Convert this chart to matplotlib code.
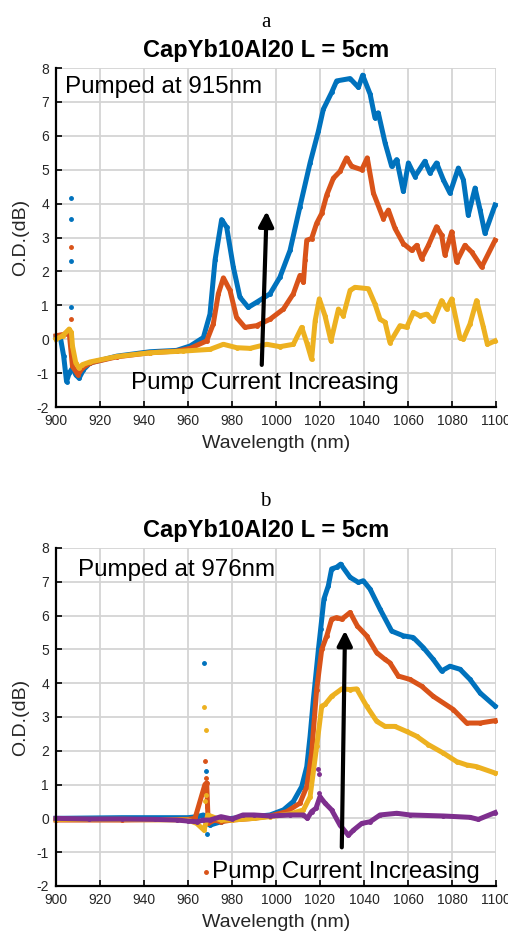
import matplotlib
matplotlib.use('Agg')
import matplotlib.pyplot as plt

plt.rcParams['font.family'] = ['Liberation Sans', 'DejaVu Sans']
plt.rcParams['axes.unicode_minus'] = False

BLUE = '#0072BD'
ORANGE = '#D95319'
YELLOW = '#EDB120'
PURPLE = '#7E2F8E'

# ---- panel a : pumped at 915 nm ----
a_blue_wl = [900, 902, 903.5, 904.8, 906, 907.5, 909, 910.5, 912.5, 915.5, 927.6, 942.7, 954.8, 961, 967,
             970, 972.3, 975.3, 977.6, 980.6, 983.6, 987.4, 991.2, 997.3, 1001.8, 1006.4, 1010.9, 1015.5,
             1019.3, 1021.5, 1025.3, 1027.6, 1033.7, 1037.5, 1039.4, 1042.8, 1045, 1046.5, 1049.6, 1052.6,
             1054.9, 1057.9, 1060.2, 1063.2, 1067.7, 1070, 1073, 1076.1, 1079.1, 1082.9, 1085.2, 1087.4,
             1090.5, 1092.8, 1095, 1099.6]
a_blue_od = [0.05, 0.05, -0.5, -1.25, -1.0, -0.85, -1.05, -1.15, -0.9, -0.7, -0.5, -0.37, -0.33, -0.2, 0.05,
             0.74, 2.33, 3.53, 3.3, 2.13, 1.24, 0.94, 1.09, 1.34, 1.83, 2.62, 3.91, 5.2,
             6.14, 6.78, 7.28, 7.62, 7.69, 7.43, 7.79, 7.23, 6.53, 6.68, 5.79, 5.1,
             5.3, 4.36, 5.2, 4.8, 5.25, 4.9, 5.2, 4.7, 4.31, 5.05, 4.7, 3.66,
             4.46, 3.81, 3.12, 3.96]

a_orange_wl = [900, 904, 906, 906.6, 907.5, 910, 912, 915.5, 927.6, 942.7, 955, 961, 968.5, 971.5, 973.8,
               976.1, 979.1, 982.1, 985.9, 991.2, 997.3, 1003.4, 1007.9, 1010.9, 1012.5, 1013.2, 1014,
               1016.2, 1018.5, 1020.8, 1023.1, 1026.1, 1029.1, 1032.1, 1034.4, 1039, 1041.5, 1044.3,
               1048.8, 1051.1, 1054.1, 1057.9, 1061.7, 1064, 1066.2, 1069.3, 1073, 1075.3, 1076.8,
               1079.9, 1082.1, 1085.9, 1089, 1093.5, 1099.6]
a_orange_od = [0.1, 0.15, 0.2, -0.2, -0.8, -1.05, -0.85, -0.7, -0.52, -0.4, -0.35, -0.27, -0.05, 0.45, 1.34,
               1.81, 1.44, 0.64, 0.35, 0.4, 0.59, 0.89, 1.34, 1.88, 1.68, 2.33, 2.92,
               2.97, 3.42, 3.71, 4.26, 4.75, 4.95, 5.35, 5.1, 5.0, 5.35, 4.31,
               3.56, 3.81, 3.27, 2.82, 2.62, 2.77, 2.38, 2.77, 3.32, 3.07, 2.48,
               3.17, 2.28, 2.77, 2.57, 2.13, 2.92]

a_yellow_wl = [900, 903, 906, 907, 907.5, 909, 910.5, 912, 915.5, 927.6, 942.7, 957.9, 970, 976.1, 982.1,
               988.2, 995.8, 1001.8, 1007.9, 1011.7, 1014, 1016.2, 1017.8, 1019.7, 1022.3, 1025,
               1028.4, 1030.6, 1033.7, 1035.9, 1042, 1045, 1047.3, 1049.6, 1051.8, 1056.4, 1059.4,
               1062.5, 1065.5, 1068.5, 1071.5, 1075.3, 1077.6, 1079.9, 1083.6, 1085.2, 1088.2,
               1091.2, 1094.3, 1096.1, 1099.6]
a_yellow_od = [0.0, 0.1, 0.3, 0.2, -0.2, -0.7, -0.85, -0.75, -0.67, -0.51, -0.4, -0.35, -0.3, -0.15, -0.25,
               -0.27, -0.15, -0.22, -0.15, 0.35, -0.1, -0.59, 0.54, 1.19, 0.69, -0.05,
               0.89, 0.69, 1.44, 1.53, 1.49, 1.04, 0.59, 0.5, -0.1, 0.4, 0.35,
               0.79, 0.69, 0.74, 0.54, 1.14, 0.89, 1.19, 0.05, 0.0, 0.45,
               1.14, 0.35, -0.15, -0.05]

# stray points
a_stray_blue_wl = [906.7, 906.7, 906.7, 906.7]
a_stray_blue_od = [4.16, 3.54, 2.32, 0.96]
a_stray_orange_wl = [906.7, 906.7]
a_stray_orange_od = [2.72, 0.59]

# ---- panel b : pumped at 976 nm ----
b_blue_wl = [900, 930, 960, 964, 967, 968.5, 970, 975, 980, 990, 997.3, 1003.4, 1007.9, 1011.7, 1014,
             1015.5, 1017, 1019.3, 1020.3, 1021.8, 1023.8, 1025.3, 1027.6, 1029.4, 1033.7, 1037.5,
             1039.7, 1042.8, 1047.3, 1052.6, 1057.9, 1062.4, 1067, 1071.5, 1075.3, 1079.1, 1083.7,
             1088.2, 1092.8, 1099.6]
b_blue_od = [0.0, 0.02, 0.02, 0.05, 0.1, -0.15, -0.2, -0.1, 0.0, 0.05, 0.1, 0.25, 0.5, 0.94, 1.53,
             2.43, 3.51, 5.0, 5.59, 6.49, 6.88, 7.38, 7.43, 7.52, 7.13, 6.98,
             7.03, 6.78, 6.19, 5.54, 5.4, 5.35, 5.05, 4.7, 4.36, 4.5, 4.41,
             4.11, 3.71, 3.32]

b_orange_wl = [900, 930, 960, 963.2, 967.7, 968.5, 969.2, 972, 975, 980, 990, 997.3, 1004.9, 1010.9, 1014,
               1016.2, 1018.5, 1020.8, 1023.1, 1025.3, 1027.6, 1029.9, 1033.7, 1037, 1041.2, 1045.8,
               1049.6, 1051.8, 1055.6, 1060.9, 1066.2, 1071.5, 1080.6, 1086.7, 1092.8, 1099.6]
b_orange_od = [-0.05, -0.05, -0.03, 0.0, 1.0, 1.05, -0.15, -0.05, -0.1, -0.05, 0.0, 0.07, 0.2, 0.45, 0.94,
               1.93, 3.81, 5.0, 5.4, 5.89, 5.94, 5.89, 6.09, 5.69, 5.4, 4.9,
               4.7, 4.6, 4.21, 4.11, 3.91, 3.61, 3.22, 2.82, 2.82, 2.89]

b_yellow_wl = [900, 930, 960, 964, 967.3, 969, 971, 975, 980, 990, 997.3, 1006.4, 1012.5, 1015.5, 1018.5,
               1020.8, 1022.3, 1025.3, 1029.9, 1033.7, 1036.7, 1041.2, 1045.8, 1049.6, 1054.1, 1059.4,
               1063.9, 1069.3, 1076.1, 1082.1, 1086.7, 1091.2, 1099.6]
b_yellow_od = [-0.03, -0.03, -0.05, -0.15, -0.35, 0.1, 0.05, -0.05, -0.05, 0.0, 0.05, 0.13, 0.25, 0.64, 2.13,
               3.32, 3.37, 3.61, 3.83, 3.81, 3.83, 3.32, 2.87, 2.72, 2.72, 2.57,
               2.43, 2.18, 1.93, 1.68, 1.58, 1.53, 1.34]

b_purple_wl = [900, 915, 930, 945, 955, 960, 964, 967, 970, 975, 980, 985, 990, 997.3, 1006.4, 1012.5,
               1014.3, 1016.2, 1018.2, 1020, 1022.3, 1025.3, 1029.1, 1032.9, 1035.2, 1039, 1042.8,
               1047.3, 1054.9, 1060.9, 1076.1, 1088.2, 1092, 1099.6]
b_purple_od = [0.0, -0.02, -0.02, -0.03, -0.05, -0.08, -0.1, -0.05, -0.05, 0.05, -0.02, 0.1, 0.1, 0.07, 0.1, 0.1,
               0.0, 0.2, 0.3, 0.64, 0.45, 0.25, -0.2, -0.5, -0.35, -0.15, -0.1,
               0.1, 0.15, 0.1, 0.07, 0.03, -0.03, 0.17]

b_stray_blue_wl = [967.3, 968.0, 968.8]
b_stray_blue_od = [4.6, 1.4, -0.45]
b_stray_yellow_wl = [967.3, 968.3, 968.3, 967.8]
b_stray_yellow_od = [3.3, 2.6, 0.7, 0.5]
b_stray_orange_wl = [967.8, 968.0, 968.5, 968.0]
b_stray_orange_od = [1.7, 1.2, 0.35, -1.6]
b_stray_purple_wl = [1019.3, 1019.5, 1019.6]
b_stray_purple_od = [1.45, 1.3, 0.75]

xticks = list(range(900, 1101, 20))
yticks = list(range(-2, 9))


def style_axes(ax):
    ax.set_xlim(900, 1100)
    ax.set_ylim(-2, 8)
    ax.set_xticks(xticks)
    ax.set_yticks(yticks)
    ax.grid(True, color='#d4d4d4', lw=1.3)
    ax.set_axisbelow(True)
    for s in ['top', 'right']:
        ax.spines[s].set_visible(False)
    for s in ['left', 'bottom']:
        ax.spines[s].set_linewidth(1.6)
        ax.spines[s].set_color('black')
    ax.tick_params(direction='in', length=4, width=1.2, labelsize=10, labelcolor='#262626')
    ax.tick_params(axis='x', pad=5)
    ax.tick_params(axis='y', pad=5)
    ax.set_xlabel('Wavelength (nm)', fontsize=14, color='#262626', labelpad=5)
    ax.set_ylabel('O.D.(dB)', fontsize=14, color='#262626', labelpad=5)


def curve(ax, wl, od, color):
    ax.plot(wl, od, '-', color=color, lw=3.6, marker='.', ms=5, solid_joinstyle='round', clip_on=False)


def stray(ax, wl, od, color):
    ax.plot(wl, od, '.', color=color, ms=5, ls='none')


fig = plt.figure(figsize=(5.08, 9.32), dpi=100)

ax1 = fig.add_axes([0.1102, 0.5633, 0.8661, 0.3637])
curve(ax1, a_blue_wl, a_blue_od, BLUE)
curve(ax1, a_orange_wl, a_orange_od, ORANGE)
curve(ax1, a_yellow_wl, a_yellow_od, YELLOW)
stray(ax1, a_stray_blue_wl, a_stray_blue_od, BLUE)
stray(ax1, a_stray_orange_wl, a_stray_orange_od, ORANGE)
style_axes(ax1)
ax1.text(904, 7.45, 'Pumped at 915nm', fontsize=17.4, va='center', ha='left')
ax1.text(934, -1.3, 'Pump Current Increasing', fontsize=17.4, va='center', ha='left')
ax1.annotate('', xy=(995.8, 3.86), xytext=(993.5, -0.84),
             arrowprops=dict(arrowstyle='-|>', color='black', lw=3, mutation_scale=22))

ax2 = fig.add_axes([0.1102, 0.0494, 0.8661, 0.3627])
curve(ax2, b_blue_wl, b_blue_od, BLUE)
curve(ax2, b_orange_wl, b_orange_od, ORANGE)
curve(ax2, b_yellow_wl, b_yellow_od, YELLOW)
curve(ax2, b_purple_wl, b_purple_od, PURPLE)
stray(ax2, b_stray_blue_wl, b_stray_blue_od, BLUE)
stray(ax2, b_stray_yellow_wl, b_stray_yellow_od, YELLOW)
stray(ax2, b_stray_orange_wl, b_stray_orange_od, ORANGE)
stray(ax2, b_stray_purple_wl, b_stray_purple_od, PURPLE)
style_axes(ax2)
ax2.text(910, 7.35, 'Pumped at 976nm', fontsize=17.4, va='center', ha='left')
ax2.text(971, -1.6, 'Pump Current Increasing', fontsize=17.4, va='center', ha='left')
ax2.annotate('', xy=(1031.4, 5.64), xytext=(1029.9, -0.94),
             arrowprops=dict(arrowstyle='-|>', color='black', lw=3, mutation_scale=22))

# panel letters and titles
fig.text(0.523, 1 - 27 / 932, 'a', family='Liberation Serif', fontsize=15, ha='center', va='baseline')
fig.text(0.523, 1 - 50 / 932, 'CapYb10Al20 L = 5cm', fontsize=17, fontweight='bold', ha='center', va='center')
fig.text(0.523, 1 - 506 / 932, 'b', family='Liberation Serif', fontsize=15, ha='center', va='baseline')
fig.text(0.523, 1 - 530 / 932, 'CapYb10Al20 L = 5cm', fontsize=17, fontweight='bold', ha='center', va='center')

fig.savefig('out.png', dpi=100, facecolor='white')
